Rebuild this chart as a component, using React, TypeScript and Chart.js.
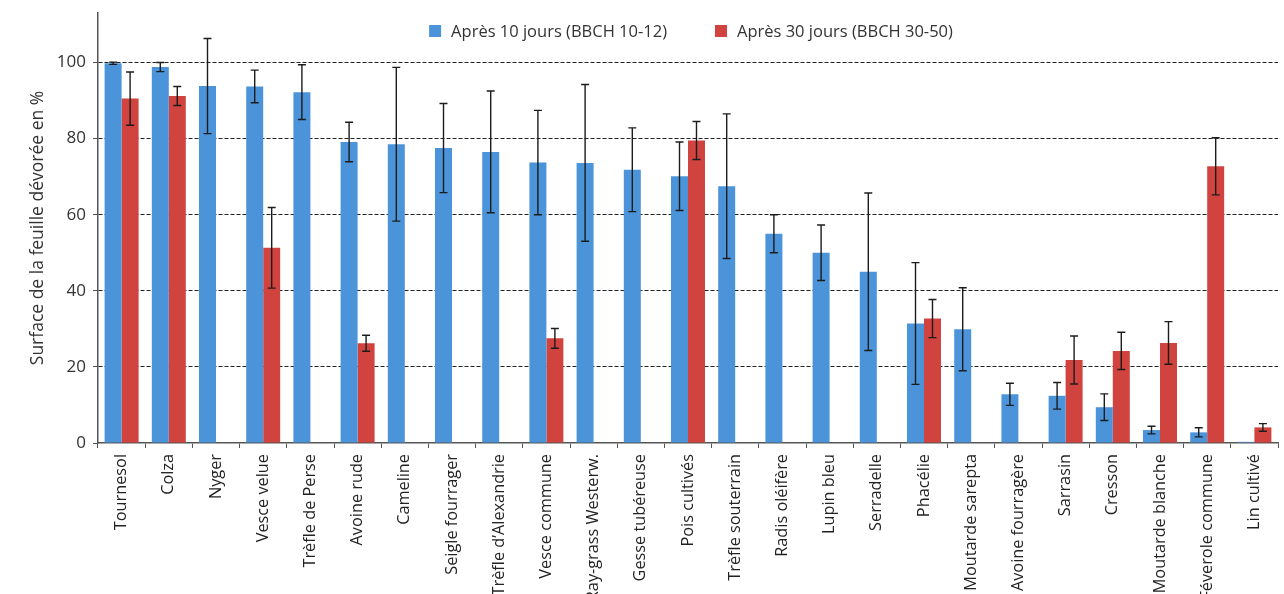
import React, { useEffect, useRef } from 'react';
import { Chart, registerables } from 'chart.js';

Chart.register(...registerables);

const categories = [
  'Tournesol', 'Colza', 'Nyger', 'Vesce velue', 'Trèfle de Perse', 'Avoine rude',
  'Cameline', 'Seigle fourrager', 'Trèfle d\u2019Alexandrie', 'Vesce commune',
  'Ray-grass Westerw.', 'Gesse tubéreuse', 'Pois cultivés', 'Trèfle souterrain',
  'Radis oléifère', 'Lupin bleu', 'Serradelle', 'Phacélie', 'Moutarde sarepta',
  'Avoine fourragère', 'Sarrasin', 'Cresson', 'Moutarde blanche', 'Féverole commune',
  'Lin cultivé',
];

const series10Label = 'Après 10 jours (BBCH 10-12)';
const series30Label = 'Après 30 jours (BBCH 30-50)';

const values10 = [
  99.8, 98.8, 93.8, 93.7, 92.2, 79.1, 78.5, 77.5, 76.5, 73.7, 73.6, 71.8, 70.1,
  67.5, 55.0, 50.0, 45.0, 31.4, 29.9, 12.8, 12.4, 9.4, 3.4, 2.8, 0.3,
];
const errors10 = [
  0.3, 1.2, 12.5, 4.3, 7.2, 5.2, 20.2, 11.7, 16.0, 13.7, 20.6, 11.0, 9.0,
  19.0, 5.0, 7.3, 20.7, 16.0, 10.9, 2.9, 3.5, 3.5, 1.0, 1.2, 0,
];

const values30 = [
  90.5, 91.2, null, 51.3, null, 26.2, null, null, null, 27.5, null, null, 79.5,
  null, null, null, null, 32.7, null, null, 21.8, 24.2, 26.3, 72.7, 4.1,
];
const errors30 = [
  7.0, 2.5, null, 10.6, null, 2.1, null, null, null, 2.6, null, null, 5.0,
  null, null, null, null, 5.0, null, null, 6.3, 4.9, 5.6, 7.5, 1.0,
];

const yTickValues = [0, 20, 40, 60, 80, 100];
const yTitle = 'Surface de la feuille dévorée en %';

const BLUE = '#4b94da';
const RED = '#d0433e';
const FONT = '"Open Sans", "Noto Sans", sans-serif';

const errorBarPlugin = {
  id: 'errorBars',
  afterDatasetsDraw(chart: any) {
    const { ctx, scales } = chart;
    const y = scales.y;
    const errs = [errors10, errors30];
    chart.data.datasets.forEach((ds: any, di: number) => {
      const meta = chart.getDatasetMeta(di);
      meta.data.forEach((bar: any, i: number) => {
        const v = ds.data[i];
        const e = errs[di][i];
        if (v == null || e == null || e === 0) return;
        const x = bar.x;
        const yt = y.getPixelForValue(v + e);
        const yb = y.getPixelForValue(Math.max(0, v - e));
        ctx.save();
        ctx.strokeStyle = '#1c1c1c';
        ctx.lineWidth = 1.4;
        ctx.beginPath();
        ctx.moveTo(x, yt);
        ctx.lineTo(x, yb);
        ctx.moveTo(x - 4, yt);
        ctx.lineTo(x + 4, yt);
        ctx.moveTo(x - 4, yb);
        ctx.lineTo(x + 4, yb);
        ctx.stroke();
        ctx.restore();
      });
    });
  },
};

const legendPlugin = {
  id: 'customLegend',
  afterDraw(chart: any) {
    const { ctx, chartArea } = chart;
    ctx.save();
    ctx.font = `16.5px ${FONT}`;
    ctx.textBaseline = 'middle';
    const box = 12;
    const gap = 10;
    const itemGap = 48;
    const items = chart.data.datasets.map((ds: any) => ({
      label: ds.label as string,
      color: ds.backgroundColor as string,
    }));
    const widths = items.map((it: any) => box + gap + ctx.measureText(it.label).width);
    const total = widths.reduce((a: number, b: number) => a + b, 0) + itemGap * (items.length - 1);
    let x = (chartArea.left + chartArea.right) / 2 - total / 2 + 3;
    const yc = 31;
    items.forEach((it: any, i: number) => {
      ctx.fillStyle = it.color;
      ctx.fillRect(x, yc - box / 2, box, box);
      ctx.fillStyle = '#333333';
      ctx.textAlign = 'left';
      ctx.fillText(it.label, x + box + gap, yc + 1);
      x += widths[i] + itemGap;
    });
    ctx.restore();
  },
};

export default function App() {
  const canvasRef = useRef<HTMLCanvasElement | null>(null);

  useEffect(() => {
    if (!canvasRef.current) return;
    const chart = new Chart(canvasRef.current, {
      type: 'bar',
      data: {
        labels: categories,
        datasets: [
          {
            label: series10Label,
            data: values10,
            backgroundColor: BLUE,
            categoryPercentage: 0.72,
            barPercentage: 1.0,
          },
          {
            label: series30Label,
            data: values30,
            backgroundColor: RED,
            categoryPercentage: 0.72,
            barPercentage: 1.0,
          },
        ],
      },
      options: {
        responsive: false,
        animation: false,
        layout: { padding: { left: 24, top: 13, right: 6, bottom: 0 } },
        plugins: {
          legend: { display: false },
          tooltip: { enabled: false },
        },
        scales: {
          x: {
            afterFit: (scale: any) => {
              scale.height = 151;
              scale.paddingLeft = 0;
              scale.paddingRight = 0;
            },
            grid: {
              drawOnChartArea: false,
              drawTicks: true,
              tickLength: 5,
              tickColor: '#555555',
              offset: true,
            },
            border: { display: true, color: '#555555', width: 1.5 },
            ticks: {
              autoSkip: false,
              minRotation: 90,
              maxRotation: 90,
              padding: 6,
              color: '#222222',
              font: { family: FONT, size: 16.3 },
            },
          },
          y: {
            min: 0,
            max: 113,
            afterFit: (scale: any) => {
              scale.width = 74;
              scale.paddingTop = 0;
              scale.paddingBottom = 0;
            },
            afterBuildTicks: (scale: any) => {
              scale.ticks = yTickValues.map((v) => ({ value: v }));
            },
            grid: {
              color: (c: any) => (c.tick && c.tick.value === 0 ? 'rgba(0,0,0,0)' : '#222222'),
              lineWidth: 1,
              drawTicks: true,
              tickLength: 5,
              tickColor: '#555555',
              tickBorderDash: [],
            },
            border: { display: true, color: '#555555', width: 1.5, dash: [4, 2] },
            ticks: {
              padding: 7,
              color: '#333333',
              font: { family: FONT, size: 17 },
            },
            title: {
              display: true,
              text: yTitle,
              color: '#333333',
              font: { family: FONT, size: 17.5 },
              padding: { top: 4, bottom: 4 },
            },
          },
        },
      },
      plugins: [errorBarPlugin, legendPlugin],
    });
    return () => chart.destroy();
  }, []);

  return (
    <div style={{ position: 'absolute', left: 0, top: 0, width: 1284, height: 594, background: '#ffffff' }}>
      <canvas ref={canvasRef} width={1284} height={594} style={{ display: 'block' }} />
    </div>
  );
}
